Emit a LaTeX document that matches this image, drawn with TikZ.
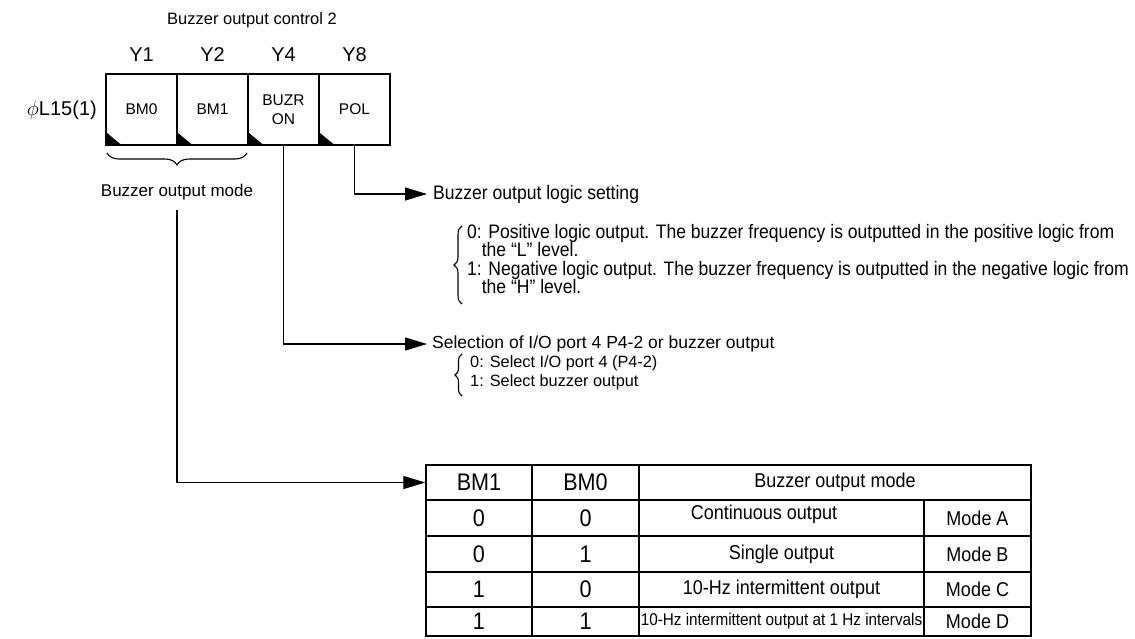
\documentclass[tikz,border=0pt]{standalone}
\usepackage{fontspec}
\setmainfont{Liberation Sans}
\newfontfamily\nf[FakeStretch=0.9]{Liberation Sans}
\usetikzlibrary{arrows.meta,decorations.pathreplacing}
\begin{document}
\begin{tikzpicture}[x=1pt,y=-1pt,
  reg/.style={draw, line width=1.3pt, minimum width=71pt, minimum height=71pt, inner sep=0pt,
    font=\fontsize{15.5}{19}\selectfont, align=center},
  ylab/.style={font=\fontsize{20}{24}\selectfont, inner sep=0pt},
  conn/.style={line width=1.2pt, -{Triangle[length=22pt,width=13pt]}},
  plain/.style={line width=1.2pt},
  rtext/.style={anchor=west, inner sep=0pt, font=\nf\fontsize{19.5}{18.5}\selectfont},
  rblock/.style={anchor=north west, inner sep=0pt, align=left, font=\nf\fontsize{19.5}{18.5}\selectfont},
  sblock/.style={anchor=north west, inner sep=0pt, align=left, font=\fontsize{16.3}{19}\selectfont},
  tcell/.style={draw, line width=1.4pt, inner sep=0pt, font=\nf\fontsize{20}{22}\selectfont},
  tnum/.style={tcell, font=\nf\fontsize{24}{26}\selectfont},
  ttxt/.style={inner sep=0pt, font=\nf\fontsize{20}{22}\selectfont},
  brc/.style={decorate, line width=1.1pt}
]
\useasboundingbox (0,0) rectangle (1135,638);

% title
\node[font=\fontsize{16.5}{19}\selectfont, inner sep=0pt] (title) at (252,20) {Buzzer output control 2};

% Y labels
\node[ylab] (y1) at (141.5,55) {Y1};
\node[ylab] (y2) at (212.5,55) {Y2};
\node[ylab] (y4) at (283.5,55) {Y4};
\node[ylab] (y8) at (354.5,55) {Y8};

% register name
\node[anchor=east, inner sep=0pt, font=\fontsize{20}{24}\selectfont] (regname) at (97,110) {$\phi$L15(1)};

% register cells
\node[reg] (bm0) at (141.5,109.5) {BM0};
\node[reg] (bm1) at (212.5,109.5) {BM1};
\node[reg] (buzr) at (283.5,109.5) {BUZR\\ON};
\node[reg] (pol) at (354.5,109.5) {POL};
\foreach \c in {bm0,bm1,buzr,pol}{
  \fill (\c.south west) -- ++(0,-14) -- ++(17,14) -- cycle;
}

% brace under BM0/BM1
\coordinate (brL) at (107,153);
\coordinate (brR) at (247,153);
\draw[brc, decoration={brace, amplitude=12pt, mirror}] (brL) -- (brR);
\node[font=\fontsize{17}{20}\selectfont, inner sep=0pt] (bmlabel) at (177,192) {Buzzer output mode};
\coordinate (bmtop) at (177,210);

% logic setting
\node[rtext] (logic) at (433,194) {Buzzer output logic setting};
\node[rblock] (lblk) at (467,224) {0: Positive logic output. The buzzer frequency is outputted in the positive logic from\\
\phantom{0:}the “L” level.\\
1: Negative logic output. The buzzer frequency is outputted in the negative logic from\\
\phantom{1:}the “H” level.};
\coordinate (b1t) at (462,226);
\coordinate (b1b) at (462,304);
\draw[brc, decoration={brace, amplitude=8pt}] (b1b) -- (b1t);

% selection
\node[anchor=west, inner sep=0pt, font=\fontsize{17.5}{20}\selectfont] (sel) at (432,344) {Selection of I/O port 4 P4-2 or buzzer output};
\node[sblock] (sblk) at (470,355) {0: Select I/O port 4 (P4-2)\\1: Select buzzer output};
\coordinate (b2t) at (462,354);
\coordinate (b2b) at (462,396);
\draw[brc, decoration={brace, amplitude=7pt}] (b2b) -- (b2t);

% table
\node[tnum, minimum width=106pt, minimum height=35pt] (h1) at (479,482.5) {BM1};
\node[tnum, minimum width=107pt, minimum height=35pt] (h2) at (585.5,482.5) {BM0};
\node[tcell, minimum width=392pt, minimum height=35pt] (h3) at (835,482.5) {Buzzer output mode};

\node[tnum, minimum width=106pt, minimum height=36pt] (r1a) at (479,518) {0};
\node[tnum, minimum width=107pt, minimum height=36pt] (r1b) at (585.5,518) {0};
\node[tcell, minimum width=285pt, minimum height=36pt] (r1c) at (781.5,518) {};
\node[tcell, minimum width=107pt, minimum height=36pt] (r1d) at (977.5,518) {Mode A};
\node[ttxt] (r1t) at (764,514) {Continuous output};

\node[tnum, minimum width=106pt, minimum height=36pt] (r2a) at (479,554) {0};
\node[tnum, minimum width=107pt, minimum height=36pt] (r2b) at (585.5,554) {1};
\node[tcell, minimum width=285pt, minimum height=36pt] (r2c) at (781.5,554) {Single output};
\node[tcell, minimum width=107pt, minimum height=36pt] (r2d) at (977.5,554) {Mode B};

\node[tnum, minimum width=106pt, minimum height=35pt] (r3a) at (479,589.5) {1};
\node[tnum, minimum width=107pt, minimum height=35pt] (r3b) at (585.5,589.5) {0};
\node[tcell, minimum width=285pt, minimum height=35pt] (r3c) at (781.5,589.5) {10-Hz intermittent output};
\node[tcell, minimum width=107pt, minimum height=35pt] (r3d) at (977.5,589.5) {Mode C};

\node[tnum, minimum width=106pt, minimum height=29pt] (r4a) at (479,621.5) {1};
\node[tnum, minimum width=107pt, minimum height=29pt] (r4b) at (585.5,621.5) {1};
\node[tcell, minimum width=285pt, minimum height=29pt, font=\nf\fontsize{17}{20}\selectfont] (r4c) at (781.5,621.5) {10-Hz intermittent output at 1 Hz intervals};
\node[tcell, minimum width=107pt, minimum height=29pt] (r4d) at (977.5,621.5) {Mode D};

% connectors
\draw[plain] (bmtop) -- (bmtop |- h1.west);
\draw[conn] (bmtop |- h1.west) -- (h1.west);
\draw[conn] (buzr.south) |- ([xshift=-5pt]sel.west);
\draw[conn] (pol.south) |- ([xshift=-6pt]logic.west);
\end{tikzpicture}
\end{document}
